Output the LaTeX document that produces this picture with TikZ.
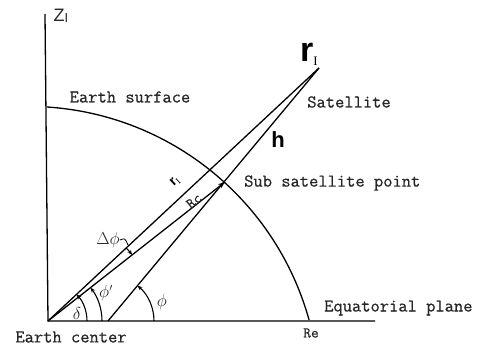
\documentclass[tikz,border=0pt]{standalone}
\usepackage{fontspec}
\newfontfamily\hv{Liberation Sans}
\newfontfamily\tms{Liberation Serif}
\newfontfamily\cour[FakeBold=0.6]{Latin Modern Mono}
\usetikzlibrary{arrows.meta}
\begin{document}
\begin{tikzpicture}[x=1pt,y=1pt,
  lbl/.style={font=\cour\fontsize{18}{18}\selectfont, text=black!85, inner sep=0pt},
  sym/.style={font=\fontsize{16}{16}\selectfont, text=black!85, inner sep=0pt},
  ln/.style={line width=1.3pt},
  ang/.style={line width=1.1pt, -{Stealth[length=5pt,width=4pt]}}]
\useasboundingbox (0,0) rectangle (487,348);
\coordinate (O) at (48,27);
\coordinate (Ztop) at (45,334);
\coordinate (Xend) at (375,27);
\coordinate (S) at (319,280);
\coordinate (P) at (225,166);
\coordinate (G) at (108,27);
\coordinate (Ntop) at (47,241);
% axes
\draw[ln] (Ztop) -- (O) -- (Xend);
% earth surface
\draw[ln] (Ntop) arc[start angle=86.3, end angle=15.5, radius=291.5];
% vectors
\draw[ln] (O) -- (S);
\draw[ln] (G) -- (S);
\draw[ln, -{Stealth[length=7pt,width=5pt]}] (O) -- (P);
% angles
\draw[ang] ([shift={(39,0)}]O) arc[start angle=0, end angle=43, radius=39];
\draw[ang] ([shift={(54,0)}]O) arc[start angle=0, end angle=38.1, radius=54];
\draw[ang] ([shift={(46,0)}]G) arc[start angle=0, end angle=50.2, radius=46];
\draw[ang] ([shift={(43:107)}]O) arc[start angle=43, end angle=38.1, radius=107];
% labels
\node[sym, font=\hv\fontsize{18}{18}\selectfont] (zl) at (61,332) {Z\raisebox{-1pt}{\fontsize{13}{13}\selectfont I}};
\node[lbl] (es) at (130,251) {Earth surface};
\node[inner sep=0pt] (rbig) at (309,294) {\hv\bfseries\fontsize{34}{34}\selectfont r\raisebox{-4pt}{\tms\mdseries\fontsize{13}{13}\selectfont I}};
\node[lbl] (sat) at (349,246) {Satellite};
\node[inner sep=0pt] (hl) at (278,208) {\hv\bfseries\fontsize{22}{22}\selectfont h};
\node[lbl, anchor=west] (ssp) at (244,165) {Sub satellite point};
\node[inner sep=0pt, rotate=43] (rsm) at (175,166) {\hv\bfseries\fontsize{14}{14}\selectfont r\raisebox{-2pt}{\tms\mdseries\fontsize{9}{9}\selectfont I}};
\node[lbl, font=\cour\fontsize{15}{15}\selectfont, rotate=38] (rc) at (194,147) {Rc};
\node[sym] (dphi) at (108,108) {$\Delta\phi$};
\draw[line width=0.8pt] (dphi.east) .. controls (125,110) .. (128,103);
\node[sym] (dl) at (77,35) {$\delta$};
\node[sym] (pp) at (106,55) {$\phi'$};
\node[sym] (pl) at (162,46) {$\phi$};
\node[lbl, anchor=west] (eq) at (324,40) {Equatorial plane};
\node[lbl, font=\cour\fontsize{15}{15}\selectfont] (re) at (311,15) {Re};
\node[lbl] (ec) at (71,11) {Earth center};
\end{tikzpicture}
\end{document}
